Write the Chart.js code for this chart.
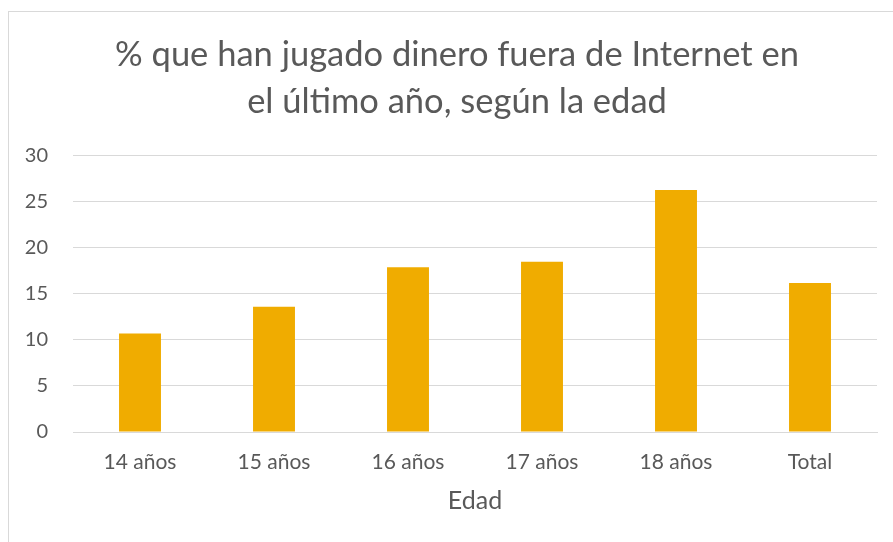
<!DOCTYPE html>
<html>
<head>
<meta charset="utf-8">
<script src="https://cdn.jsdelivr.net/npm/chart.js@4"></script>
<style>
  html, body { margin: 0; padding: 0; background: #fff; overflow: hidden; }
  #frame { position: absolute; left: 8px; top: 11px; width: 1000px; height: 1000px; border: 1px solid #d9d9d9; }
  #wrap { position: absolute; left: 0; top: 0; width: 893px; height: 542px; }
</style>
</head>
<body>
<div id="frame"></div>
<div id="wrap"><canvas id="c" width="893" height="542"></canvas></div>
<script>
const titleLines = ["% que han jugado dinero fuera de Internet en", "el último año, según la edad"];
const categories = ["14 años", "15 años", "16 años", "17 años", "18 años", "Total"];
const values = [10.7, 13.6, 17.9, 18.5, 26.3, 16.2];
const yTicks = [0, 5, 10, 15, 20, 25, 30];
const xAxisTitle = "Edad";

const FONT = "Lato, 'Open Sans', sans-serif";
const GRAY = "#595959";

new Chart(document.getElementById("c"), {
  type: "bar",
  data: {
    labels: categories,
    datasets: [{
      data: values,
      backgroundColor: "#F0AC00",
      borderWidth: 0,
      categoryPercentage: 1,
      barPercentage: 0.313
    }]
  },
  options: {
    responsive: false,
    animation: false,
    devicePixelRatio: 1,
    layout: { padding: { left: 21, right: 0, top: 0, bottom: 0 } },
    plugins: {
      legend: { display: false },
      tooltip: { enabled: false },
      title: {
        display: true,
        text: titleLines,
        color: GRAY,
        font: { family: FONT, size: 34.5, weight: "normal", lineHeight: 1.362 },
        padding: { top: 31.5, bottom: 30.5 }
      }
    },
    scales: {
      x: {
        grid: { display: false, drawTicks: false },
        border: { display: true, color: "#d9d9d9", width: 1 },
        ticks: { color: GRAY, font: { family: FONT, size: 21 }, padding: 18, maxRotation: 0 },
        title: { display: true, text: xAxisTitle, color: GRAY, font: { family: FONT, size: 25, lineHeight: 1.2 }, padding: { top: 0, bottom: 26.5 } },
        afterFit: (s) => { s.height = 110; }
      },
      y: {
        min: 0, max: 30,
        afterBuildTicks: (s) => { s.ticks = yTicks.map(v => ({ value: v })); },
        grid: { color: "#d9d9d9", lineWidth: 1, drawTicks: false },
        border: { display: false },
        ticks: { color: GRAY, font: { family: FONT, size: 20 }, padding: 25 },
        afterFit: (s) => { s.width = 52; }
      },
      yR: {
        type: "linear",
        position: "right",
        display: true,
        grid: { display: false, drawTicks: false },
        border: { display: false },
        ticks: { display: false },
        afterFit: (s) => { s.width = 16; }
      }
    }
  }
});
</script>
</body>
</html>
